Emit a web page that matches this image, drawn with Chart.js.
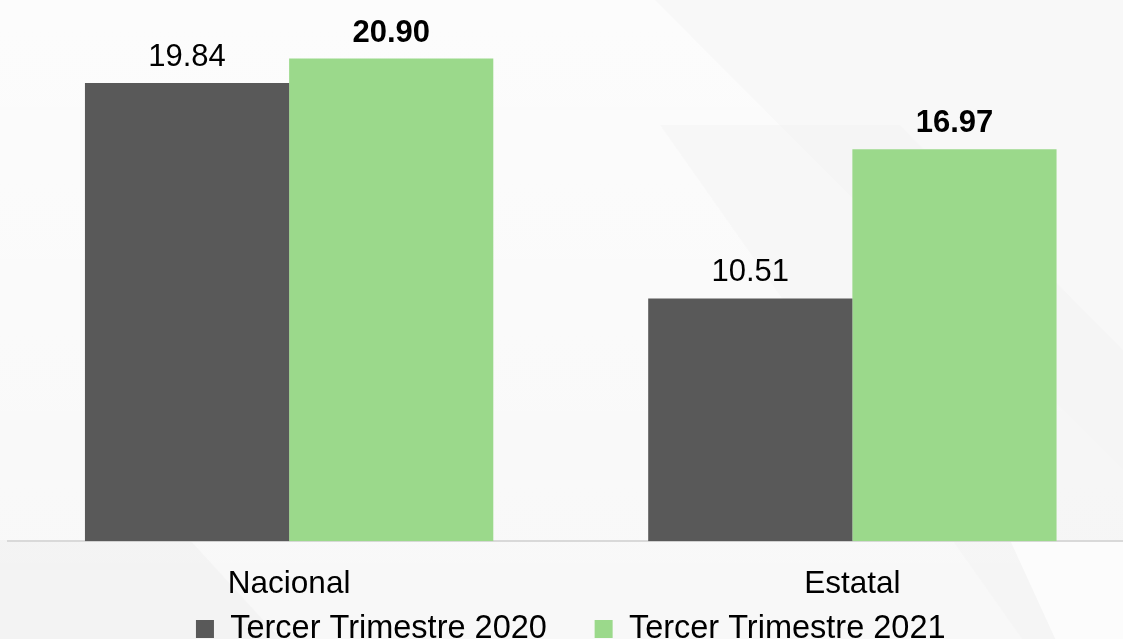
<!DOCTYPE html>
<html><head><meta charset="utf-8">
<script src="https://cdn.jsdelivr.net/npm/chart.js@4.4.1/dist/chart.umd.min.js"></script>
<style>
html,body{margin:0;padding:0;overflow:hidden;background:#f8f8f8;width:1123px;height:639px;}
#wrap{position:absolute;left:0;top:0;width:1134px;height:693px;}
</style></head><body>
<div id="wrap"><canvas id="c" width="1134" height="693"></canvas></div>
<script>
const categories = ['Nacional', 'Estatal'];
const seriesNames = ['Tercer Trimestre 2020', 'Tercer Trimestre 2021'];
const values2020 = [19.84, 10.51];
const values2021 = [20.90, 16.97];
const seriesColors = ['#595959', '#9bd98b'];

const FONT = "'Liberation Sans', Arial, sans-serif";

const bgPlugin = {
  id: 'bg',
  beforeDraw(chart) {
    const ctx = chart.ctx, w = chart.width, h = chart.height;
    ctx.save();
    ctx.fillStyle = '#f8f8f8';
    ctx.fillRect(0, 0, w, h);
    let g = ctx.createLinearGradient(0, 0, 0, 639);
    g.addColorStop(0, 'rgba(255,255,255,0.6)');
    g.addColorStop(1, 'rgba(255,255,255,0)');
    ctx.fillStyle = g;
    ctx.beginPath(); ctx.moveTo(0,0); ctx.lineTo(655,0); ctx.lineTo(1123,470); ctx.lineTo(1123,h); ctx.lineTo(0,h); ctx.closePath(); ctx.fill();
    ctx.fillStyle = 'rgba(235,235,235,0.35)';
    ctx.beginPath(); ctx.moveTo(0,540); ctx.lineTo(0,h); ctx.lineTo(330,h); ctx.lineTo(190,540); ctx.closePath(); ctx.fill();
    ctx.beginPath(); ctx.moveTo(660,125); ctx.lineTo(900,125); ctx.lineTo(1123,350); ctx.lineTo(1123,h); ctx.lineTo(1060,h); ctx.closePath();
    ctx.fillStyle = 'rgba(240,240,240,0.35)'; ctx.fill();
    ctx.fillStyle = 'rgba(255,255,255,0.7)';
    ctx.beginPath(); ctx.moveTo(1010,540); ctx.lineTo(1123,540); ctx.lineTo(1123,h); ctx.lineTo(1080,h); ctx.closePath(); ctx.fill();
    ctx.restore();
  }
};

// move legend up so it sits just below the category labels
const legendShift = {
  id: 'legendShift',
  afterLayout(chart) {
    const lg = chart.legend;
    if (!lg) return;
    const dy = 565 - lg.top;
    lg.top += dy; lg.bottom += dy;
  }
};

const valueLabels = {
  id: 'valueLabels',
  afterDatasetsDraw(chart) {
    const ctx = chart.ctx;
    ctx.save();
    ctx.fillStyle = '#000';
    ctx.textAlign = 'center';
    ctx.textBaseline = 'alphabetic';
    chart.data.datasets.forEach((ds, i) => {
      const meta = chart.getDatasetMeta(i);
      ctx.font = (i === 1 ? 'bold ' : '') + '31px ' + FONT;
      meta.data.forEach((bar, j) => {
        ctx.fillText(ds.data[j].toFixed(2), bar.x, bar.y - 17);
      });
    });
    ctx.restore();
  }
};

new Chart(document.getElementById('c'), {
  type: 'bar',
  data: {
    labels: categories,
    datasets: [
      { label: seriesNames[0], data: values2020, backgroundColor: seriesColors[0], borderWidth: 0 },
      { label: seriesNames[1], data: values2021, backgroundColor: seriesColors[1], borderWidth: 0 }
    ]
  },
  options: {
    responsive: false,
    animation: false,
    devicePixelRatio: 1,
    datasets: { bar: { categoryPercentage: 0.725, barPercentage: 1.0 } },
    layout: { padding: { top: 10, left: 7.5, right: 0, bottom: 0 } },
    scales: {
      x: {
        grid: { display: false },
        border: { display: true, color: '#d9d9d9', width: 2 },
        ticks: { color: '#000', font: { family: FONT, size: 31.5 }, padding: 16 },
        afterFit(s) { s.height = 61.5; }
      },
      y: { display: false, min: 0, max: 23 }
    },
    plugins: {
      legend: {
        position: 'bottom',
        labels: { boxWidth: 18, boxHeight: 18, padding: 47.75, color: '#000', font: { family: FONT, size: 32.5 } }
      },
      tooltip: { enabled: false }
    }
  },
  plugins: [bgPlugin, legendShift, valueLabels]
});
</script>
</body></html>
